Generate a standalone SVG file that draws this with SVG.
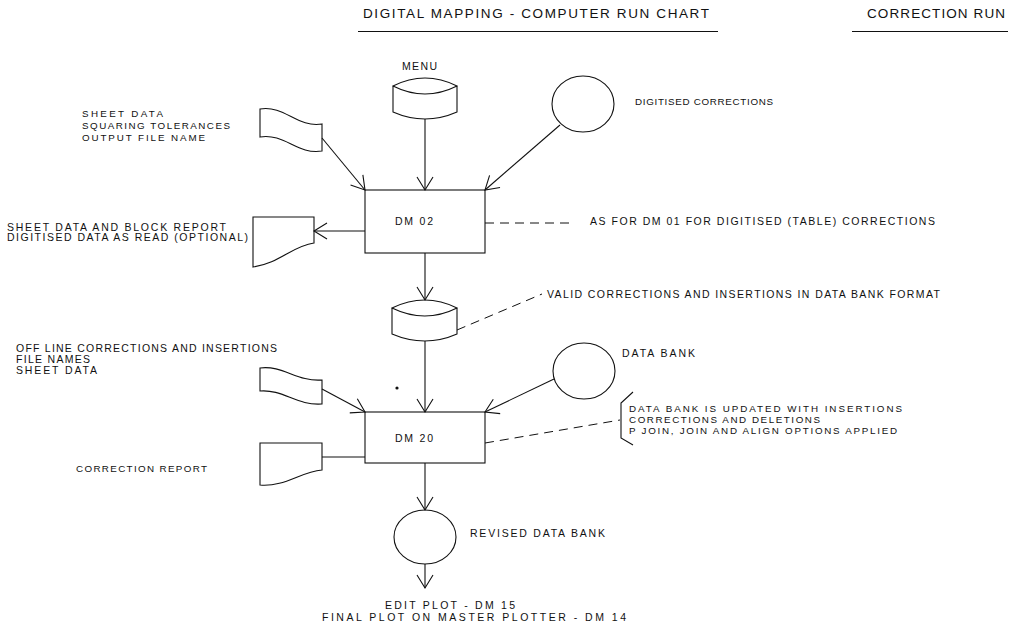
<svg xmlns="http://www.w3.org/2000/svg" width="1009" height="629" viewBox="0 0 1009 629">
<style>
text{font-family:"Liberation Sans",Arial,sans-serif;fill:#111;font-size:10.5px}
.s{fill:none;stroke:#111;stroke-width:1.1}
.c{fill:none;stroke:#111;stroke-width:1.1}
.d{fill:none;stroke:#111;stroke-width:1;stroke-dasharray:9,6}
.t{font-size:13.5px}
.sm{font-size:9.8px}
</style>
<defs>
<marker id="v" markerUnits="userSpaceOnUse" markerWidth="20" markerHeight="20" viewBox="-14 -10 16 20" refX="0" refY="0" orient="auto">
<path d="M-13,-8 L0,0 L-13,8" fill="none" stroke="#111" stroke-width="1.1"/>
</marker>
</defs>
<rect width="1009" height="629" fill="#fff"/>
<g id="title">
<text class="t" x="363" y="18" textLength="346" lengthAdjust="spacing">DIGITAL MAPPING - COMPUTER RUN CHART</text>
<line x1="358" y1="31.5" x2="718" y2="31.5" class="s"/>
<text class="t" x="867" y="18" textLength="138" lengthAdjust="spacing">CORRECTION RUN</text>
<line x1="852" y1="31.5" x2="1008" y2="31.5" class="s"/>
</g>
<g id="menu">
<text x="402" y="70" textLength="35" lengthAdjust="spacing">MENU</text>
<path class="s" d="M393,86 Q425,70 457,86 Q425,102 393,86 Z M393,86 L393,112 Q425,126 457,112 L457,86"/>
</g>
<g id="digitised-corrections">
<ellipse class="s" cx="583" cy="104" rx="31" ry="28"/>
<text x="635" y="105" textLength="138" lengthAdjust="spacing" class="sm">DIGITISED CORRECTIONS</text>
</g>
<g id="sheet-data-input">
<path class="s" d="M260,109 C285,105 297,128 322,124 L322,151 C297,155 285,133 260,137 Z"/>
<text class="sm" x="82" y="117" textLength="81" lengthAdjust="spacing">SHEET DATA</text>
<text class="sm" x="82" y="129" textLength="148" lengthAdjust="spacing">SQUARING TOLERANCES</text>
<text class="sm" x="82" y="141" textLength="123" lengthAdjust="spacing">OUTPUT FILE NAME</text>
</g>
<g id="dm02">
<rect class="s" x="365" y="190" width="120" height="63"/>
<text x="395" y="225" textLength="38" lengthAdjust="spacing">DM 02</text>
</g>
<g id="block-report">
<path class="s" d="M253,217 L314,217 L314,243 C292,246 280,263 253,267 Z"/>
<text x="7" y="231" textLength="219" lengthAdjust="spacing">SHEET DATA AND BLOCK REPORT</text>
<text x="7" y="241" textLength="241" lengthAdjust="spacing">DIGITISED DATA AS READ (OPTIONAL)</text>
</g>
<g id="note-dm01">
<text x="590" y="225" textLength="345" lengthAdjust="spacing">AS FOR DM 01 FOR DIGITISED (TABLE) CORRECTIONS</text>
</g>
<g id="valid-corrections">
<path class="s" d="M392,308 Q425,292 457,308 Q425,324 392,308 Z M392,308 L392,334 Q425,348 457,334 L457,308"/>
<text x="547" y="298" textLength="393" lengthAdjust="spacing">VALID CORRECTIONS AND INSERTIONS IN DATA BANK FORMAT</text>
</g>
<g id="data-bank">
<ellipse class="s" cx="584" cy="371" rx="31" ry="28"/>
<text x="622" y="357" textLength="73" lengthAdjust="spacing">DATA BANK</text>
</g>
<g id="offline-input">
<path class="s" d="M260,368 C283,365 297,382 322,380 L322,404 C297,406 283,389 260,391 Z"/>
<text x="16" y="352" textLength="261" lengthAdjust="spacing">OFF LINE CORRECTIONS AND INSERTIONS</text>
<text x="16" y="363" textLength="74" lengthAdjust="spacing">FILE NAMES</text>
<text x="16" y="374" textLength="81" lengthAdjust="spacing">SHEET DATA</text>
<circle cx="397" cy="388" r="1.6" fill="#111"/>
</g>
<g id="dm20">
<rect class="s" x="365" y="412" width="120" height="51"/>
<text x="395" y="442" textLength="38" lengthAdjust="spacing">DM 20</text>
</g>
<g id="correction-report">
<path class="s" d="M260,443 L322,443 L322,470 C300,472 285,487 260,485 Z"/>
<text class="sm" x="76" y="472" textLength="131" lengthAdjust="spacing">CORRECTION REPORT</text>
</g>
<g id="note-update">
<path class="s" d="M633,392 L621,403 L621,438 L633,445"/>
<text class="sm" x="629" y="412" textLength="273" lengthAdjust="spacing">DATA BANK IS UPDATED WITH INSERTIONS</text>
<text class="sm" x="629" y="423" textLength="191" lengthAdjust="spacing">CORRECTIONS AND DELETIONS</text>
<text class="sm" x="629" y="434" textLength="268" lengthAdjust="spacing">P JOIN, JOIN AND ALIGN OPTIONS APPLIED</text>
</g>
<g id="revised-data-bank">
<ellipse class="s" cx="425" cy="537" rx="31" ry="27"/>
<text x="470" y="537" textLength="135" lengthAdjust="spacing">REVISED DATA BANK</text>
</g>
<g id="plots">
<text x="385" y="609" textLength="130" lengthAdjust="spacing">EDIT PLOT - DM 15</text>
<text x="322" y="621" textLength="304" lengthAdjust="spacing">FINAL PLOT ON MASTER PLOTTER - DM 14</text>
</g>
<g id="connectors">
<line class="c" x1="425" y1="119" x2="425" y2="190" marker-end="url(#v)"/>
<line class="c" x1="322" y1="138" x2="365" y2="190" marker-end="url(#v)"/>
<line class="c" x1="560" y1="125" x2="485" y2="190" marker-end="url(#v)"/>
<line class="c" x1="365" y1="231" x2="314" y2="231" marker-end="url(#v)"/>
<line class="d" x1="485" y1="223" x2="572" y2="223"/>
<line class="c" x1="425" y1="253" x2="425" y2="300" marker-end="url(#v)"/>
<line class="d" x1="457" y1="330" x2="542" y2="294"/>
<line class="c" x1="425" y1="341" x2="425" y2="412" marker-end="url(#v)"/>
<line class="c" x1="322" y1="389" x2="365" y2="412" marker-end="url(#v)"/>
<line class="c" x1="554" y1="379" x2="485" y2="412" marker-end="url(#v)"/>
<line class="c" x1="365" y1="457" x2="322" y2="457"/>
<line class="d" x1="485" y1="443" x2="620" y2="420"/>
<line class="c" x1="425" y1="463" x2="425" y2="510" marker-end="url(#v)"/>
<line class="c" x1="425" y1="564" x2="425" y2="588" marker-end="url(#v)"/>
</g>
</svg>
